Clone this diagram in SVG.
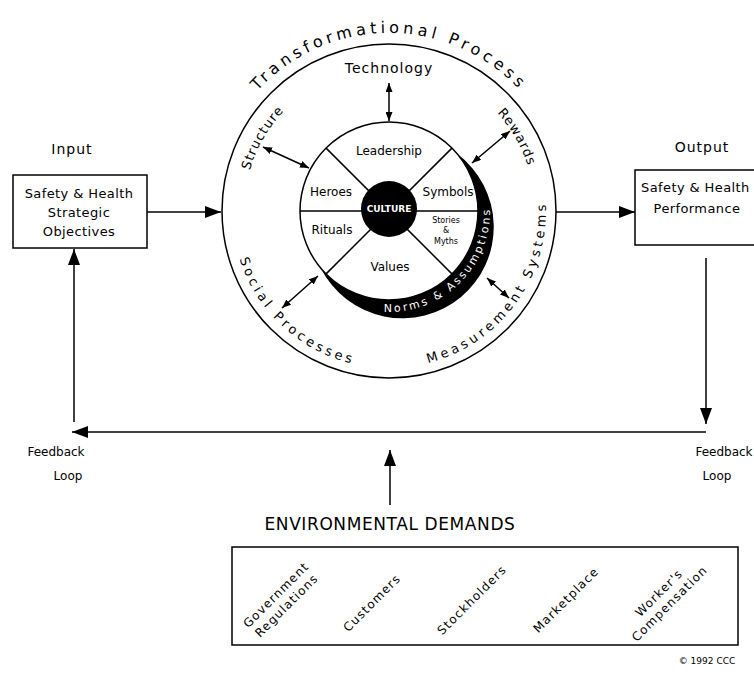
<svg xmlns="http://www.w3.org/2000/svg" width="754" height="679" viewBox="0 0 754 679">
<style>
text{font-family:"DejaVu Sans","Liberation Sans",sans-serif;fill:#000}
.ln{stroke:#000;stroke-width:1.5;fill:none}
.c{text-anchor:middle}
.s12{font-size:12px}
.s13{font-size:13px;letter-spacing:0.4px}
.diag{font-size:12px;letter-spacing:1.2px;text-anchor:middle}
</style>
<defs>
<marker id="big" viewBox="0 0 16 12" refX="16" refY="6" markerWidth="16" markerHeight="12" markerUnits="userSpaceOnUse" orient="auto"><path d="M0,0 L16,6 L0,12 Z" fill="#000"/></marker>
<marker id="sm" viewBox="0 0 9 7" refX="9" refY="3.5" markerWidth="9" markerHeight="7" markerUnits="userSpaceOnUse" orient="auto-start-reverse"><path d="M0,0 L9,3.5 L0,7 Z" fill="#000"/></marker>
<path id="pTrans" d="M221.7,150.1 A178,178 0 0 1 556.3,150.1"/>
<path id="pStruct" d="M244,211 A145,145 0 0 1 316.5,85.4"/>
<path id="pRew" d="M462,84.6 A146,146 0 0 1 535,211"/>
<path id="pSoc" d="M232.6,224.7 A157,157 0 0 0 389,368"/>
<path id="pMeas" d="M416.3,365.6 A157,157 0 0 0 544.5,189.1"/>
<path id="pNorms" d="M383.7,311.9 A101,101 0 0 0 488.5,193.5"/>
</defs>

<g id="transformational-process">
<circle cx="389" cy="211" r="167" class="ln"/>
<text font-size="16" letter-spacing="4"><textPath href="#pTrans" startOffset="50%" text-anchor="middle">Transformational Process</textPath></text>
<text x="389" y="73" class="c" font-size="14" letter-spacing="1">Technology</text>
<text font-size="13" letter-spacing="1"><textPath href="#pStruct" startOffset="50%" text-anchor="middle">Structure</textPath></text>
<text font-size="13" letter-spacing="1"><textPath href="#pRew" startOffset="50%" text-anchor="middle">Rewards</textPath></text>
<text font-size="13" letter-spacing="3.5"><textPath href="#pSoc" startOffset="50%" text-anchor="middle">Social Processes</textPath></text>
<text font-size="13" letter-spacing="3.6"><textPath href="#pMeas" startOffset="50%" text-anchor="middle">Measurement Systems</textPath></text>
</g>

<g id="culture-wheel">
<path d="M457.2,153.8 A91.4,91.4 0 1 1 320.8,268.2 A89,89 0 0 0 457.2,153.8 Z" fill="#000"/>
<circle cx="389" cy="211" r="89" fill="#fff" stroke="#000" stroke-width="1.5"/>
<line x1="300" y1="211" x2="478" y2="211" class="ln"/>
<line x1="326.1" y1="148.1" x2="451.9" y2="273.9" class="ln"/>
<line x1="451.9" y1="148.1" x2="326.1" y2="273.9" class="ln"/>
<circle cx="389" cy="209" r="28" fill="#000"/>
<text x="389" y="212" class="c" font-size="9" font-weight="bold" style="fill:#fff">CULTURE</text>
<text x="389" y="155" class="c s12">Leadership</text>
<text x="331" y="196" class="c s12">Heroes</text>
<text x="448" y="196" class="c s12">Symbols</text>
<text x="332" y="234" class="c s12">Rituals</text>
<text x="390" y="271" class="c s12">Values</text>
<text x="446" y="223" class="c" font-size="8">Stories</text>
<text x="446" y="233" class="c" font-size="8">&amp;</text>
<text x="446" y="244" class="c" font-size="8">Myths</text>
<text font-size="11" letter-spacing="2.4" style="fill:#fff"><textPath href="#pNorms">Norms &amp; Assumptions</textPath></text>
</g>

<g id="input">
<text x="72" y="154" class="c" font-size="14" letter-spacing="1">Input</text>
<rect x="13" y="175" width="134" height="73" class="ln"/>
<text x="79" y="198" class="c s13">Safety &amp; Health</text>
<text x="79" y="217" class="c s13">Strategic</text>
<text x="79" y="236" class="c s13">Objectives</text>
</g>

<g id="output">
<text x="702" y="152" class="c" font-size="14" letter-spacing="1">Output</text>
<rect x="635" y="170" width="130" height="75" class="ln"/>
<text x="641" y="192" class="s13">Safety &amp; Health</text>
<text x="697" y="213" class="c s13">Performance</text>
</g>

<g id="feedback-labels">
<text x="56" y="456" class="c s12">Feedback</text>
<text x="68" y="480" class="c s12">Loop</text>
<text x="724" y="456" class="c s12">Feedback</text>
<text x="717" y="480" class="c s12">Loop</text>
</g>

<g id="environmental-demands">
<text x="390" y="530" class="c" font-size="17" letter-spacing="0.6">ENVIRONMENTAL DEMANDS</text>
<rect x="232" y="547" width="506" height="98" class="ln"/>
<text class="diag" transform="translate(281,600) rotate(-45)"><tspan x="0" y="-3">Government</tspan><tspan x="0" y="12">Regulations</tspan></text>
<text class="diag" transform="translate(372,603) rotate(-45)" y="4">Customers</text>
<text class="diag" transform="translate(472,600) rotate(-45)" y="4">Stockholders</text>
<text class="diag" transform="translate(566,600) rotate(-45)" y="4">Marketplace</text>
<text class="diag" transform="translate(664,598) rotate(-45)"><tspan x="0" y="-3">Worker's</tspan><tspan x="0" y="12">Compensation</tspan></text>
<text x="707" y="664" class="c" font-size="9">© 1992 CCC</text>
</g>

<g id="connectors">
<line x1="147" y1="212" x2="221" y2="212" class="ln" marker-end="url(#big)"/>
<line x1="556" y1="212" x2="635" y2="212" class="ln" marker-end="url(#big)"/>
<line x1="706" y1="258" x2="706" y2="424" class="ln" marker-end="url(#big)"/>
<line x1="706" y1="432" x2="72" y2="432" class="ln" marker-end="url(#big)"/>
<line x1="74" y1="422" x2="74" y2="249" class="ln" marker-end="url(#big)"/>
<line x1="390" y1="505" x2="390" y2="450" class="ln" marker-end="url(#big)"/>
<line x1="389" y1="83" x2="389" y2="121" class="ln" marker-start="url(#sm)" marker-end="url(#sm)"/>
<line x1="263" y1="147" x2="309" y2="168" class="ln" marker-start="url(#sm)" marker-end="url(#sm)"/>
<line x1="510" y1="131" x2="472" y2="163" class="ln" marker-start="url(#sm)" marker-end="url(#sm)"/>
<line x1="282" y1="308" x2="318" y2="276" class="ln" marker-start="url(#sm)" marker-end="url(#sm)"/>
<line x1="487" y1="278" x2="509" y2="298" class="ln" marker-start="url(#sm)" marker-end="url(#sm)"/>
</g>
</svg>
